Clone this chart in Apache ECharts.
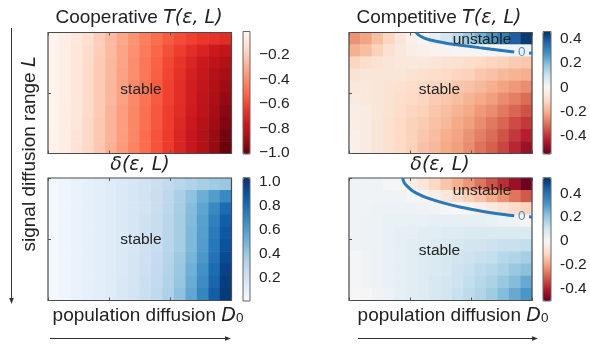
<!DOCTYPE html>
<html><head><meta charset="utf-8">
<script src="https://cdn.jsdelivr.net/npm/echarts@6/dist/echarts.min.js"></script>
<style>html,body{margin:0;padding:0;background:#fff}#c{width:590px;height:344px}</style>
</head><body><div id="c"></div>
<script>
// ---------- data (rows top -> bottom, columns left -> right) ----------
const coopT = [
 [-0.02,-0.05,-0.09,-0.14,-0.20,-0.26,-0.32,-0.38,-0.44,-0.50,-0.55,-0.59,-0.62,-0.65,-0.67,-0.69],
 [-0.02,-0.05,-0.10,-0.15,-0.20,-0.26,-0.33,-0.39,-0.46,-0.52,-0.58,-0.63,-0.68,-0.72,-0.76,-0.79],
 [-0.02,-0.05,-0.10,-0.15,-0.21,-0.27,-0.33,-0.40,-0.47,-0.53,-0.60,-0.66,-0.71,-0.76,-0.81,-0.85],
 [-0.02,-0.05,-0.10,-0.15,-0.21,-0.27,-0.34,-0.40,-0.47,-0.54,-0.61,-0.67,-0.73,-0.78,-0.84,-0.88],
 [-0.02,-0.05,-0.10,-0.15,-0.21,-0.27,-0.34,-0.41,-0.48,-0.55,-0.62,-0.68,-0.74,-0.79,-0.85,-0.90],
 [-0.02,-0.05,-0.10,-0.15,-0.21,-0.27,-0.34,-0.41,-0.48,-0.55,-0.62,-0.68,-0.74,-0.80,-0.86,-0.92],
 [-0.02,-0.06,-0.10,-0.15,-0.21,-0.28,-0.35,-0.42,-0.49,-0.56,-0.63,-0.69,-0.75,-0.81,-0.88,-0.94],
 [-0.02,-0.06,-0.10,-0.16,-0.22,-0.28,-0.35,-0.42,-0.49,-0.56,-0.63,-0.70,-0.76,-0.83,-0.89,-0.96],
 [-0.03,-0.06,-0.11,-0.16,-0.22,-0.28,-0.35,-0.42,-0.50,-0.57,-0.64,-0.71,-0.77,-0.84,-0.91,-0.98],
 [-0.03,-0.06,-0.11,-0.16,-0.22,-0.29,-0.36,-0.43,-0.50,-0.57,-0.64,-0.71,-0.78,-0.85,-0.92,-1.00]
];
const compT = [
 [-0.25,-0.22,-0.17,-0.12,-0.07,-0.03,0.00,0.04,0.08,0.12,0.17,0.22,0.27,0.32,0.38,0.44],
 [-0.20,-0.17,-0.13,-0.09,-0.06,-0.04,-0.03,-0.02,-0.02,-0.01,0.00,0.00,0.01,0.01,0.02,0.02],
 [-0.12,-0.10,-0.08,-0.07,-0.06,-0.06,-0.06,-0.07,-0.08,-0.09,-0.10,-0.11,-0.12,-0.13,-0.14,-0.15],
 [-0.08,-0.07,-0.07,-0.07,-0.07,-0.08,-0.09,-0.10,-0.11,-0.12,-0.13,-0.15,-0.16,-0.18,-0.19,-0.20],
 [-0.06,-0.06,-0.07,-0.08,-0.09,-0.10,-0.11,-0.12,-0.13,-0.15,-0.16,-0.18,-0.20,-0.22,-0.24,-0.26],
 [-0.05,-0.06,-0.07,-0.08,-0.10,-0.11,-0.12,-0.14,-0.15,-0.17,-0.19,-0.21,-0.23,-0.26,-0.28,-0.31],
 [-0.04,-0.05,-0.07,-0.08,-0.10,-0.12,-0.13,-0.15,-0.17,-0.19,-0.21,-0.24,-0.26,-0.29,-0.32,-0.35],
 [-0.04,-0.05,-0.07,-0.09,-0.11,-0.13,-0.14,-0.16,-0.18,-0.21,-0.23,-0.26,-0.29,-0.32,-0.36,-0.39],
 [-0.03,-0.05,-0.07,-0.09,-0.11,-0.13,-0.15,-0.17,-0.20,-0.22,-0.25,-0.28,-0.31,-0.35,-0.39,-0.43],
 [-0.03,-0.05,-0.07,-0.09,-0.11,-0.13,-0.16,-0.18,-0.21,-0.23,-0.26,-0.30,-0.33,-0.37,-0.42,-0.47]
];
const coopDelta = [
 [0.03,0.05,0.07,0.09,0.11,0.13,0.15,0.17,0.20,0.23,0.27,0.30,0.33,0.36,0.38,0.40],
 [0.03,0.05,0.07,0.09,0.11,0.13,0.15,0.17,0.20,0.24,0.29,0.35,0.43,0.52,0.60,0.68],
 [0.03,0.05,0.07,0.09,0.11,0.13,0.15,0.17,0.20,0.24,0.29,0.36,0.45,0.56,0.68,0.80],
 [0.03,0.05,0.07,0.09,0.11,0.13,0.15,0.17,0.21,0.25,0.30,0.37,0.46,0.58,0.72,0.85],
 [0.03,0.05,0.07,0.09,0.11,0.13,0.15,0.17,0.21,0.25,0.30,0.37,0.47,0.59,0.74,0.88],
 [0.03,0.05,0.07,0.09,0.11,0.13,0.15,0.17,0.21,0.25,0.30,0.37,0.47,0.60,0.75,0.90],
 [0.03,0.05,0.07,0.09,0.11,0.13,0.15,0.18,0.22,0.26,0.31,0.39,0.49,0.62,0.77,0.93],
 [0.03,0.05,0.07,0.09,0.11,0.13,0.15,0.18,0.22,0.27,0.32,0.40,0.51,0.65,0.80,0.96],
 [0.03,0.05,0.07,0.09,0.11,0.13,0.16,0.18,0.23,0.27,0.33,0.41,0.53,0.67,0.82,0.98],
 [0.03,0.05,0.07,0.09,0.11,0.13,0.16,0.19,0.23,0.28,0.34,0.43,0.55,0.70,0.85,1.00]
];
const compDelta = [
 [0.02,0.02,0.02,0.01,0.00,-0.03,-0.06,-0.10,-0.14,-0.18,-0.22,-0.27,-0.32,-0.37,-0.43,-0.49],
 [0.02,0.02,0.02,0.02,0.02,0.01,-0.01,-0.03,-0.06,-0.09,-0.12,-0.15,-0.19,-0.23,-0.27,-0.31],
 [0.02,0.02,0.03,0.03,0.03,0.03,0.02,0.02,0.01,0.00,-0.01,-0.03,-0.05,-0.07,-0.09,-0.11],
 [0.02,0.03,0.03,0.04,0.04,0.04,0.04,0.05,0.05,0.05,0.05,0.05,0.04,0.03,0.02,0.01],
 [0.02,0.03,0.03,0.04,0.05,0.05,0.06,0.06,0.07,0.07,0.08,0.08,0.08,0.08,0.08,0.08],
 [0.02,0.03,0.03,0.04,0.05,0.06,0.06,0.07,0.08,0.09,0.10,0.10,0.11,0.12,0.12,0.13],
 [0.01,0.02,0.03,0.04,0.05,0.06,0.07,0.08,0.09,0.10,0.11,0.12,0.13,0.15,0.16,0.18],
 [0.01,0.02,0.03,0.04,0.05,0.06,0.07,0.08,0.09,0.11,0.12,0.14,0.15,0.17,0.20,0.22],
 [0.01,0.02,0.03,0.04,0.05,0.06,0.07,0.09,0.10,0.11,0.13,0.15,0.17,0.20,0.23,0.27],
 [0.00,0.01,0.02,0.03,0.05,0.06,0.07,0.09,0.10,0.12,0.14,0.16,0.19,0.23,0.27,0.31]
];
// zero contour (normalised x: D0 left->right, y: L top->bottom)
const compTZeroX = [0.366,0.393,0.439,0.530,0.621,0.712,0.803,0.903];
const compTZeroY = [0.000,0.033,0.060,0.088,0.107,0.125,0.142,0.161];
const compTZeroTailX = [0.984,1.0];
const compTZeroTailY = [0.170,0.172];
const compDeltaZeroX = [0.293,0.302,0.321,0.348,0.393,0.439,0.530,0.621,0.712,0.803,0.903];
const compDeltaZeroY = [0.000,0.038,0.071,0.106,0.141,0.168,0.209,0.241,0.268,0.290,0.309];
const compDeltaZeroTailX = [0.984,1.0];
const compDeltaZeroTailY = [0.317,0.319];
// colour bar ticks
const cbTicksCoopT = [-1.0,-0.8,-0.6,-0.4,-0.2];
const cbTicksCoopDelta = [0.2,0.4,0.6,0.8,1.0];
const cbTicksComp = [-0.4,-0.2,0,0.2,0.4];

// ---------- styling ----------
const REDS = ['#67000d','#a50f15','#cb181d','#ef3b2c','#fb6a4a','#fc9272','#fcbba1','#fee0d2','#fff5f0'];
const BLUES = ['#f7fbff','#deebf7','#c6dbef','#9ecae1','#6baed6','#4292c6','#2171b5','#08519c','#08306b'];
const RDBU = ['#67001f','#b2182b','#d6604d','#f4a582','#fddbc7','#f7f7f7','#d1e5f0','#92c5de','#4393c3','#2166ac','#053061'];
function hex2rgb(h){return [parseInt(h.slice(1,3),16),parseInt(h.slice(3,5),16),parseInt(h.slice(5,7),16)];}
function sampleStops(stops,t){t=Math.max(0,Math.min(1,t));const n=stops.length-1;const f=t*n;const i=Math.min(n-1,Math.floor(f));const u=f-i;const a=hex2rgb(stops[i]),b=hex2rgb(stops[i+1]);return 'rgb('+a.map((c,k)=>Math.round(c+(b[k]-c)*u)).join(',')+')';}
function centeredRdBu(min,max){const out=[];const N=60;for(let k=0;k<=N;k++){const v=min+(max-min)*k/N;const t=v<0?0.5*(v-min)/(-min):0.5+0.5*v/max;out.push(sampleStops(RDBU,t));}return out;}

const FONT = '"Liberation Sans", Arial, sans-serif';
const MATH = '"DejaVu Sans", sans-serif';
const LINE = '#2a78b8';
const fmtMinus = v => '\u2212' + Math.abs(v).toFixed(1);
const fmtPlain = v => v.toFixed(1);
const fmtHyph = v => (Math.abs(v) < 1e-9 ? '0' : v.toFixed(1));

const panels = [
 {data:coopT, min:-1.01, max:-0.01, colors:REDS, ticks:cbTicksCoopT, fmt:fmtMinus,
  plot:{left:48,top:32.5,width:183.5,height:121}, cb:{left:243,top:31.5,width:7,height:122.5}},
 {data:compT, min:-0.55, max:0.46, colors:centeredRdBu(-0.55,0.46), ticks:cbTicksComp, fmt:fmtHyph,
  plot:{left:349,top:32.5,width:183,height:121}, cb:{left:543,top:31.5,width:8,height:122.5},
  zero:[compTZeroX,compTZeroY], tail:[compTZeroTailX,compTZeroTailY]},
 {data:coopDelta, min:0.005, max:1.035, colors:BLUES, ticks:cbTicksCoopDelta, fmt:fmtPlain,
  plot:{left:48,top:178,width:183.5,height:122.5}, cb:{left:243,top:177.7,width:7,height:123.3}},
 {data:compDelta, min:-0.50, max:0.53, colors:centeredRdBu(-0.50,0.53), ticks:cbTicksComp, fmt:fmtHyph,
  plot:{left:349,top:178,width:183,height:122.5}, cb:{left:543,top:177.7,width:8,height:123.3},
  zero:[compDeltaZeroX,compDeltaZeroY], tail:[compDeltaZeroTailX,compDeltaZeroTailY]}
];

const grid=[], xAxis=[], yAxis=[], series=[], visualMap=[];
const tick = {show:true, inside:true, length:3, lineStyle:{color:'#555', width:1}};
panels.forEach((p,k)=>{
  const g = grid.length;
  grid.push(Object.assign({show:true, borderColor:'#4a4a4a', borderWidth:1.2, backgroundColor:'transparent', z:3}, p.plot));
  grid.push(Object.assign({show:true, borderColor:'#666', borderWidth:1, backgroundColor:'transparent', z:6}, p.cb));
  const nx = p.data[0].length, ny = p.data.length;
  const cx = xAxis.length; xAxis.push({type:'category', gridIndex:g, data:[...Array(nx).keys()], show:false});
  const vx = xAxis.length; xAxis.push({type:'value', gridIndex:g, min:0, max:1, interval:1/3, position:'bottom', axisLine:{show:false}, axisTick:tick, axisLabel:{show:false}, splitLine:{show:false}, z:5});
  xAxis.push({type:'value', gridIndex:g, min:0, max:1, interval:1/3, position:'top', axisLine:{show:false}, axisTick:tick, axisLabel:{show:false}, splitLine:{show:false}, z:5});
  xAxis.push({type:'value', gridIndex:g+1, show:false});
  const cy = yAxis.length; yAxis.push({type:'category', gridIndex:g, data:[...Array(ny).keys()], inverse:true, show:false});
  const vy = yAxis.length; yAxis.push({type:'value', gridIndex:g, min:0, max:1, interval:0.5, inverse:true, position:'left', axisLine:{show:false}, axisTick:tick, axisLabel:{show:false}, splitLine:{show:false}, z:5});
  yAxis.push({type:'value', gridIndex:g+1, min:p.min, max:p.max, position:'right', axisLine:{show:false}, axisTick:{show:false}, splitLine:{show:false},
    axisLabel:{customValues:p.ticks, formatter:p.fmt, margin:9, fontSize:15.5, color:'#222', fontFamily:FONT}});
  const cells=[];
  p.data.forEach((row,j)=>row.forEach((v,i)=>cells.push([i,j,v])));
  const si = series.length;
  series.push({type:'heatmap', xAxisIndex:cx, yAxisIndex:cy, data:cells, emphasis:{disabled:true}, z:2});
  visualMap.push({type:'continuous', seriesIndex:si, min:p.min, max:p.max, inRange:{color:p.colors},
    orient:'vertical', left:p.cb.left, top:p.cb.top, itemWidth:p.cb.width, itemHeight:p.cb.height,
    calculable:false, hoverLink:false, padding:0, text:null, showLabel:false, textStyle:{color:'transparent'}});
  if (p.zero){
    series.push({type:'line', xAxisIndex:vx, yAxisIndex:vy, data:p.zero[0].map((x,i)=>[x,p.zero[1][i]]),
      smooth:0.4, showSymbol:false, symbol:'none', lineStyle:{color:LINE,width:3}, z:4, silent:true});
    series.push({type:'line', xAxisIndex:vx, yAxisIndex:vy, data:p.tail[0].map((x,i)=>[x,p.tail[1][i]]),
      showSymbol:false, symbol:'none', lineStyle:{color:LINE,width:3}, z:4, silent:true});
    const lx = (p.zero[0][p.zero[0].length-1] + p.tail[0][0]) / 2;
    const ly = (p.zero[1][p.zero[1].length-1] + p.tail[1][0]) / 2;
    series.push({type:'scatter', xAxisIndex:vx, yAxisIndex:vy, data:[[lx,ly]], symbolSize:0, silent:true, z:4,
      label:{show:true, position:'inside', formatter:'0', color:LINE, fontSize:13.5, fontFamily:FONT}});
  }
});

function txt(x,y,text,size,extra){return Object.assign({type:'text', x:x, y:y, z:20, style:{text:text, fill:'#222', fontSize:size, fontFamily:FONT, align:'center', verticalAlign:'middle'}}, extra||{});}
const FS = 19;
const rich = {
  n:{fontSize:FS, fontFamily:FONT, fill:'#222', color:'#222'},
  m:{fontSize:FS, fontFamily:MATH, fontStyle:'italic', fill:'#222', color:'#222'},
  s:{fontSize:13.5, fontFamily:FONT, fill:'#222', color:'#222', verticalAlign:'bottom', lineHeight:13}
};
function rtxt(x,y,text,rot){const o={type:'text', x:x, y:y, z:20, style:{text:text, rich:rich, fill:'#222', fontSize:FS, fontFamily:FONT, align:'center', verticalAlign:'middle'}}; if(rot) o.rotation=rot; return o;}
const arrowC = '#333';
const graphic = [
  rtxt(139,18,'{n|Cooperative }{m|T}{m|(ε, }{m|L}{m|)}'),
  rtxt(439,18,'{n|Competitive }{m|T}{m|(ε, }{m|L}{m|)}'),
  rtxt(140,165,'{m|δ(ε, L)}'),
  rtxt(440,165,'{m|δ(ε, L)}'),
  rtxt(148,316,'{n|population diffusion }{m|D}{s|0}'),
  rtxt(453,316,'{n|population diffusion }{m|D}{s|0}'),
  rtxt(30,154,'{n|signal diffusion range }{m|L}', Math.PI/2),
  txt(141,90,'stable',15.5), txt(439.5,90,'stable',15.5), txt(141,240,'stable',15.5), txt(439.5,250.5,'stable',15.5),
  txt(482,40,'unstable',15.5), txt(482,190.5,'unstable',15.5),
  {type:'line', z:20, shape:{x1:11.5,y1:28,x2:11.5,y2:299}, style:{stroke:arrowC, lineWidth:1}},
  {type:'polygon', z:20, shape:{points:[[9.2,298],[13.8,298],[11.5,304]]}, style:{fill:arrowC}},
  {type:'line', z:20, shape:{x1:50,y1:338.5,x2:226,y2:338.5}, style:{stroke:arrowC, lineWidth:1}},
  {type:'polygon', z:20, shape:{points:[[225,336.2],[225,340.8],[231,338.5]]}, style:{fill:arrowC}},
  {type:'line', z:20, shape:{x1:358,y1:338.5,x2:533,y2:338.5}, style:{stroke:arrowC, lineWidth:1}},
  {type:'polygon', z:20, shape:{points:[[532,336.2],[532,340.8],[538,338.5]]}, style:{fill:arrowC}}
];

const chart = echarts.init(document.getElementById('c'), null, {renderer:'canvas'});
chart.setOption({animation:false, backgroundColor:'#fff', textStyle:{fontFamily:FONT},
  grid, xAxis, yAxis, series, visualMap, graphic});
</script>
</body></html>
